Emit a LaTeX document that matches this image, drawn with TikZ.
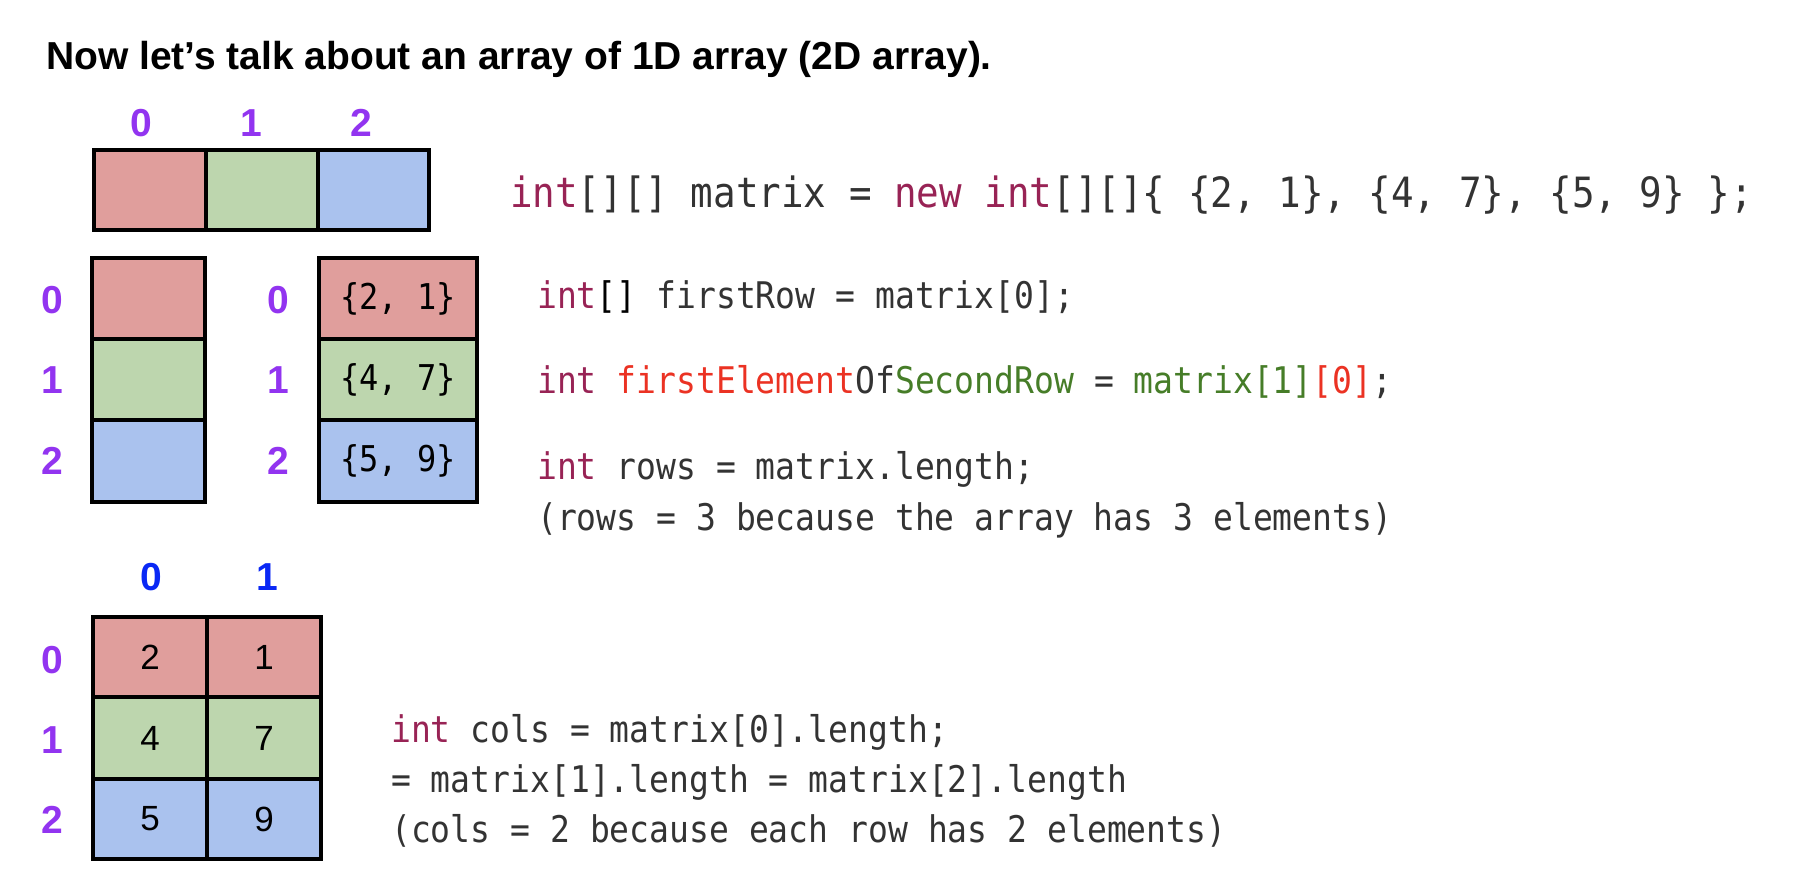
\documentclass[tikz,border=0pt]{standalone}
\usepackage{fontspec}
\setmainfont{Liberation Sans}
\newfontfamily\codefont[FakeStretch=0.9]{DejaVu Sans Mono}
\definecolor{cpink}{RGB}{224,158,156}
\definecolor{cgreen}{RGB}{189,214,174}
\definecolor{cblue}{RGB}{170,194,238}
\definecolor{purp}{RGB}{146,52,240}
\definecolor{idxblue}{RGB}{10,40,245}
\definecolor{kwc}{RGB}{152,35,85}
\definecolor{codegray}{RGB}{51,51,51}
\definecolor{codered}{RGB}{235,50,35}
\definecolor{codegreen}{RGB}{70,125,40}
\newcommand\kw[1]{\textcolor{kwc}{#1}}
\newcommand\cred[1]{\textcolor{codered}{#1}}
\newcommand\cgrn[1]{\textcolor{codegreen}{#1}}
\begin{document}
\begin{tikzpicture}[x=1pt,y=-1pt,
  cell/.style={draw=black, line width=3.5pt, inner sep=0pt, outer sep=0pt},
  idx/.style={font=\fontsize{39}{39}\selectfont\bfseries, text=purp, inner sep=0pt},
  cidx/.style={font=\fontsize{39}{39}\selectfont\bfseries, text=idxblue, inner sep=0pt},
  code/.style={font=\codefont\fontsize{36.7}{36.7}\selectfont, text=codegray, anchor=base west, inner sep=0pt},
  celltxt/.style={font=\codefont\fontsize{35.5}{35.5}\selectfont, text=black, inner sep=0pt},
  num/.style={font=\fontsize{35}{35}\selectfont, text=black, inner sep=0pt}]
\useasboundingbox (0,0) rectangle (1804,894);

% title
\node[anchor=base west, inner sep=0pt, font=\fontsize{39}{40}\selectfont\bfseries] (title) at (46,69) {Now let’s talk about an array of 1D array (2D array).};

% top 1D array of arrays
\node[cell, fill=cpink, minimum width=112pt, minimum height=80pt] (t0) at (150,190) {};
\node[cell, fill=cgreen, minimum width=112pt, minimum height=80pt] (t1) at (262,190) {};
\node[cell, fill=cblue, minimum width=111pt, minimum height=80pt] (t2) at (373.5,190) {};
\node[idx] (ti0) at (141,123) {0};
\node[idx] (ti1) at (251,123) {1};
\node[idx] (ti2) at (361,123) {2};

\node[code, font=\codefont\fontsize{41.7}{41.7}\selectfont] (decl) at (510,207) {\kw{int}[][] matrix = \kw{new} \kw{int}[][]\{ \{2, 1\}, \{4, 7\}, \{5, 9\} \};};

% left vertical array
\node[cell, fill=cpink, minimum width=113pt, minimum height=81pt] (l0) at (148.5,298.5) {};
\node[cell, fill=cgreen, minimum width=113pt, minimum height=81pt] (l1) at (148.5,379.5) {};
\node[cell, fill=cblue, minimum width=113pt, minimum height=82pt] (l2) at (148.5,461) {};
\node[idx] (li0) at (52,300) {0};
\node[idx] (li1) at (52,380) {1};
\node[idx] (li2) at (52,461) {2};

% right vertical array
\node[cell, fill=cpink, minimum width=158pt, minimum height=81pt] (r0) at (398,298.5) {};
\node[cell, fill=cgreen, minimum width=158pt, minimum height=81pt] (r1) at (398,379.5) {};
\node[cell, fill=cblue, minimum width=158pt, minimum height=82pt] (r2) at (398,461) {};
\node[celltxt] (rt0) at (r0.center) {\{2, 1\}};
\node[celltxt] (rt1) at (r1.center) {\{4, 7\}};
\node[celltxt] (rt2) at (r2.center) {\{5, 9\}};
\node[idx] (ri0) at (278,300) {0};
\node[idx] (ri1) at (278,380) {1};
\node[idx] (ri2) at (278,461) {2};

% middle code
\node[code] (c1) at (537,308) {\kw{int}\textcolor{black}{[]} firstRow = matrix[0];};
\node[code] (c2) at (537,393) {\kw{int} \cred{firstElement}Of\cgrn{SecondRow} = \cgrn{matrix[1]}\cred{[0]};};
\node[code] (c3) at (537,479) {\kw{int} rows = matrix.length;};
\node[code] (c4) at (537,530) {(rows = 3 because the array has 3 elements)};

% bottom 2D grid
\node[cell, fill=cpink, minimum width=114pt, minimum height=80pt] (g00) at (150,657) {};
\node[cell, fill=cpink, minimum width=114pt, minimum height=80pt] (g01) at (264,657) {};
\node[cell, fill=cgreen, minimum width=114pt, minimum height=82pt] (g10) at (150,738) {};
\node[cell, fill=cgreen, minimum width=114pt, minimum height=82pt] (g11) at (264,738) {};
\node[cell, fill=cblue, minimum width=114pt, minimum height=80pt] (g20) at (150,819) {};
\node[cell, fill=cblue, minimum width=114pt, minimum height=80pt] (g21) at (264,819) {};
\node[num] at (g00.center) {2};
\node[num] at (g01.center) {1};
\node[num] at (g10.center) {4};
\node[num] at (g11.center) {7};
\node[num] at (g20.center) {5};
\node[num] at (g21.center) {9};
\node[cidx] (ci0) at (151,577) {0};
\node[cidx] (ci1) at (267,577) {1};
\node[idx] (gi0) at (52,660) {0};
\node[idx] (gi1) at (52,740) {1};
\node[idx] (gi2) at (52,820) {2};

% bottom code
\node[code] (d1) at (391,742) {\kw{int} cols = matrix[0].length;};
\node[code] (d2) at (391,792) {= matrix[1].length = matrix[2].length};
\node[code] (d3) at (391,842) {(cols = 2 because each row has 2 elements)};
\end{tikzpicture}
\end{document}
